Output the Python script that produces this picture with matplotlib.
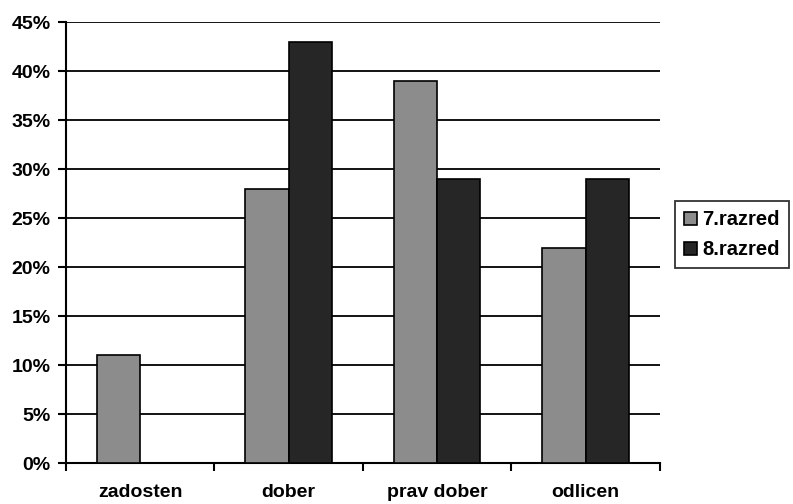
import numpy as np
import matplotlib.pyplot as plt
from matplotlib.ticker import PercentFormatter

plt.rcParams['font.family'] = ['Liberation Sans', 'DejaVu Sans']

categories = ['zadosten', 'dober', 'prav dober', 'odlicen']
razred7 = [11, 28, 39, 22]
razred8 = [0, 43, 29, 29]
series_names = ['7.razred', '8.razred']

fig = plt.figure(figsize=(7.93, 5.04), dpi=100)
ax = fig.add_axes([0.083, 0.081, 0.749, 0.875])

x = np.arange(len(categories))
w = 0.29
ax.bar(x - w / 2, razred7, w, color='#8c8c8c', edgecolor='black', linewidth=1.2,
       label=series_names[0], zorder=3)
ax.bar(x + w / 2, razred8, w, color='#262626', edgecolor='black', linewidth=1.2,
       label=series_names[1], zorder=3)

ax.set_ylim(0, 45)
ax.set_yticks(np.arange(0, 46, 5))
ax.yaxis.set_major_formatter(PercentFormatter(decimals=0))
ax.set_xlim(-0.5, len(categories) - 0.5)
ax.set_xticks(x)
ax.set_xticklabels(categories)
ax.set_xticks(np.arange(-0.5, len(categories)), minor=True)
ax.tick_params(axis='x', which='major', length=0, pad=15)
ax.tick_params(axis='x', which='minor', length=6, width=1.5)
ax.tick_params(axis='y', length=6, width=1.5, pad=5)
for lab in ax.get_xticklabels() + ax.get_yticklabels():
    lab.set_fontsize(14)
    lab.set_fontweight('bold')

ax.grid(axis='y', color='black', linewidth=1.3, zorder=0)
ax.spines['top'].set_visible(False)
ax.spines['right'].set_visible(False)
ax.spines['left'].set_linewidth(1.5)
ax.spines['bottom'].set_linewidth(1.5)

leg = fig.legend(loc='center left', bbox_to_anchor=(0.851, 0.534), frameon=True,
                 fancybox=False, edgecolor='black', handlelength=0.65, handleheight=0.65,
                 handletextpad=0.25, borderpad=0.45, labelspacing=0.55,
                 borderaxespad=0, prop={'weight': 'bold', 'size': 14.5})
leg.get_frame().set_linewidth(1.3)

fig.savefig('out.png', dpi=100)
